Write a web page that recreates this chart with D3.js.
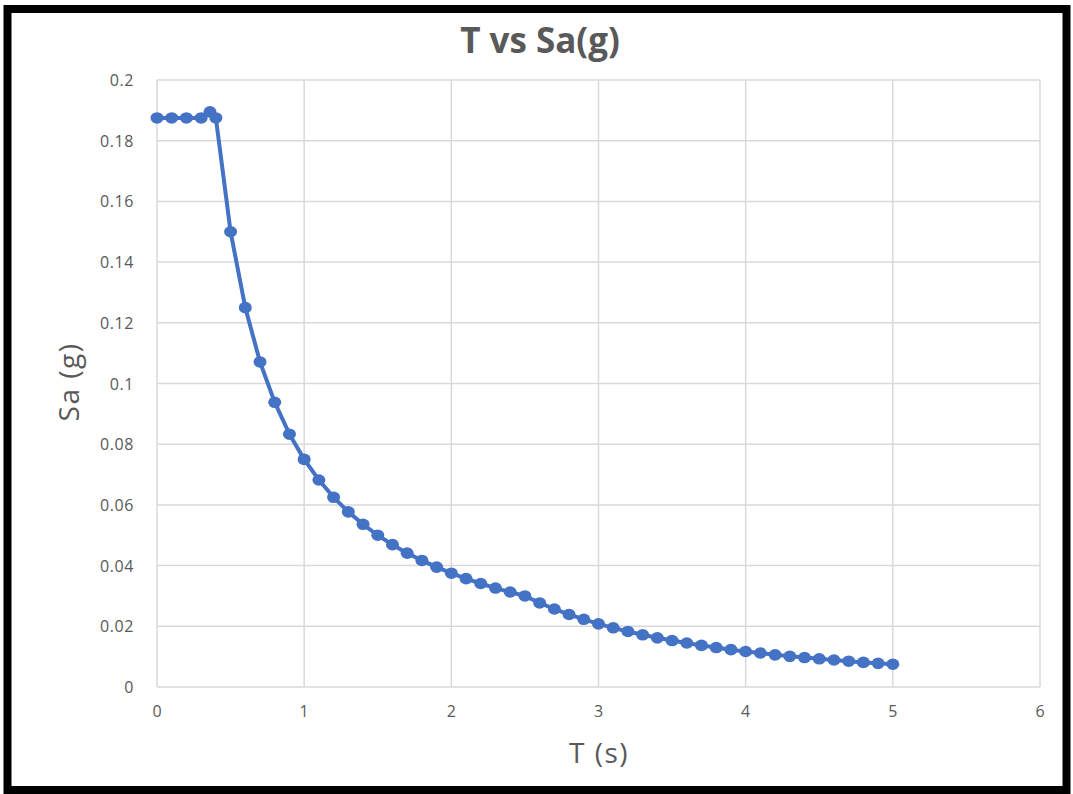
<!DOCTYPE html>
<html>
<head>
<meta charset="utf-8">
<script src="https://cdn.jsdelivr.net/npm/d3@7"></script>
<style>
  body { margin: 0; background: #fff; }
  svg { display: block; }
</style>
</head>
<body>
<div class="svg-content"></div>
<script>
const periods = [0, 0.1, 0.2, 0.3, 0.36, 0.4, 0.5, 0.6, 0.7, 0.8, 0.9, 1.0,
  1.1, 1.2, 1.3, 1.4, 1.5, 1.6, 1.7, 1.8, 1.9, 2.0,
  2.1, 2.2, 2.3, 2.4, 2.5, 2.6, 2.7, 2.8, 2.9, 3.0,
  3.1, 3.2, 3.3, 3.4, 3.5, 3.6, 3.7, 3.8, 3.9, 4.0,
  4.1, 4.2, 4.3, 4.4, 4.5, 4.6, 4.7, 4.8, 4.9, 5.0];
const saValues = [0.1875, 0.1875, 0.1875, 0.1875, 0.1895, 0.1875, 0.15, 0.125, 0.1071, 0.0938, 0.0833, 0.075,
  0.0682, 0.0625, 0.0577, 0.0536, 0.05, 0.0469, 0.0441, 0.0417, 0.0395, 0.0375,
  0.0357, 0.0341, 0.0326, 0.0313, 0.03, 0.0277, 0.0257, 0.0239, 0.0223, 0.0208,
  0.0195, 0.0183, 0.0172, 0.0162, 0.0153, 0.0145, 0.0137, 0.013, 0.0123, 0.0117,
  0.0112, 0.0106, 0.0101, 0.0097, 0.0093, 0.0089, 0.0085, 0.0081, 0.0078, 0.0075];
const xTicks = [0, 1, 2, 3, 4, 5, 6];
const yTicks = [0, 0.02, 0.04, 0.06, 0.08, 0.1, 0.12, 0.14, 0.16, 0.18, 0.2];
const chartTitle = "T vs Sa(g)";
const xTitle = "T (s)";
const yTitle = "Sa (g)";

const svgWidth = 1073;
const svgHeight = 794;
const plotLeft = 157, plotRight = 1040, plotTop = 80, plotBottom = 687;
const textColor = "#595959";
const font = "'Open Sans', sans-serif";

const dataset = periods.map((t, i) => ({ t: t, sa: saValues[i] }));

let svg = d3.select(".svg-content")
            .append("svg")
            .attr("width", svgWidth)
            .attr("height", svgHeight);

svg.append("rect")
   .attr("width", svgWidth)
   .attr("height", svgHeight)
   .attr("fill", "#fff");

const xScale = d3.scaleLinear().domain([0, 6]).range([plotLeft, plotRight]);
const yScale = d3.scaleLinear().domain([0, 0.2]).range([plotBottom, plotTop]);

// gridlines
svg.append("g")
   .selectAll("line")
   .data(yTicks)
   .enter()
   .append("line")
   .attr("x1", plotLeft)
   .attr("x2", plotRight)
   .attr("y1", d => yScale(d))
   .attr("y2", d => yScale(d))
   .attr("stroke", "#d9d9d9")
   .attr("stroke-width", 1.5);

svg.append("g")
   .selectAll("line")
   .data(xTicks)
   .enter()
   .append("line")
   .attr("x1", d => xScale(d))
   .attr("x2", d => xScale(d))
   .attr("y1", plotTop)
   .attr("y2", plotBottom)
   .attr("stroke", "#d9d9d9")
   .attr("stroke-width", 1.5);

// tick labels
svg.append("g")
   .selectAll("text")
   .data(yTicks)
   .enter()
   .append("text")
   .attr("x", 134)
   .attr("y", d => yScale(d) + 6)
   .attr("text-anchor", "end")
   .attr("font-family", font)
   .attr("font-size", 16)
   .attr("letter-spacing", 0.6)
   .attr("fill", textColor)
   .text(d => d3.format("~g")(d));

svg.append("g")
   .selectAll("text")
   .data(xTicks)
   .enter()
   .append("text")
   .attr("x", d => xScale(d))
   .attr("y", 717)
   .attr("text-anchor", "middle")
   .attr("font-family", font)
   .attr("font-size", 16)
   .attr("fill", textColor)
   .text(d => d);

// titles
svg.append("text")
   .attr("x", 540)
   .attr("y", 53)
   .attr("text-anchor", "middle")
   .attr("font-family", font)
   .attr("font-weight", 700)
   .attr("font-size", 35)
   .attr("fill", textColor)
   .text(chartTitle);

svg.append("text")
   .attr("x", 599)
   .attr("y", 763)
   .attr("text-anchor", "middle")
   .attr("font-family", font)
   .attr("font-size", 28)
   .attr("letter-spacing", 1.5)
   .attr("fill", textColor)
   .text(xTitle);

svg.append("text")
   .attr("transform", "translate(79," + 382 + ") rotate(-90)")
   .attr("text-anchor", "middle")
   .attr("font-family", font)
   .attr("font-size", 28)
   .attr("letter-spacing", 1.5)
   .attr("fill", textColor)
   .text(yTitle);

// series
const line = d3.line()
               .x(d => xScale(d.t))
               .y(d => yScale(d.sa));

svg.append("path")
   .datum(dataset)
   .attr("d", line)
   .attr("fill", "none")
   .attr("stroke", "#4472c4")
   .attr("stroke-width", 4)
   .attr("stroke-linejoin", "round");

svg.append("g")
   .selectAll("ellipse")
   .data(dataset)
   .enter()
   .append("ellipse")
   .attr("cx", d => xScale(d.t))
   .attr("cy", d => yScale(d.sa))
   .attr("rx", 6.5)
   .attr("ry", 5.8)
   .attr("fill", "#4472c4");

// black frame around the screenshot
svg.append("rect")
   .attr("x", 7.5)
   .attr("y", 9)
   .attr("width", 1059)
   .attr("height", 781)
   .attr("fill", "none")
   .attr("stroke", "#000")
   .attr("stroke-width", 8);
</script>
</body>
</html>
